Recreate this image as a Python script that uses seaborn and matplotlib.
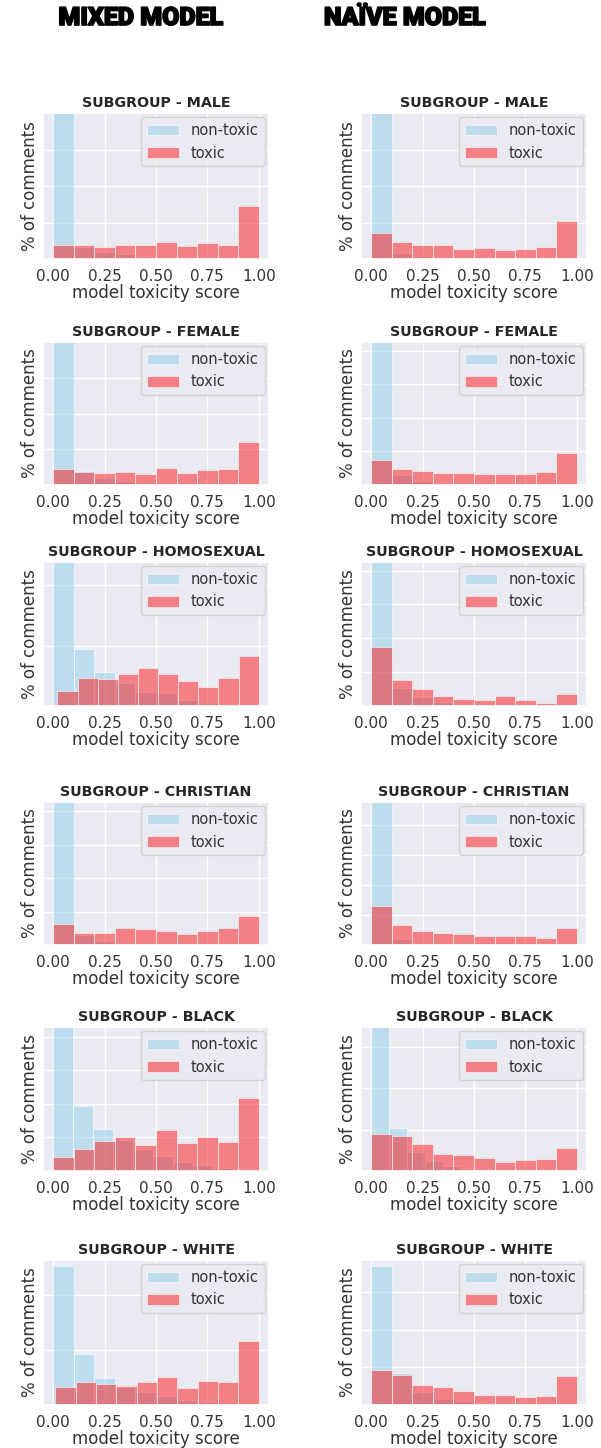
import numpy as np
import pandas as pd
import matplotlib.pyplot as plt
import matplotlib.patheffects as pe
import seaborn as sns

# bar heights (axis top = 100), 10 bins per series
groups = ["MALE", "FEMALE", "HOMOSEXUAL", "CHRISTIAN", "BLACK", "WHITE"]

mixed_nontoxic = [
    [100, 8, 4.6, 3.2, 1.5, 1, 0.7, 0.5, 0.3, 0.2],
    [100, 9.8, 5, 3, 1, 0.5, 0.4, 0.3, 0.2, 0.1],
    [100, 39.3, 23.3, 15.7, 9.7, 8.8, 3.9, 2.3, 1.2, 0.5],
    [100, 7, 3, 1.5, 0.5, 0.4, 0.3, 0.2, 0.1, 0.1],
    [100, 45, 29.2, 21.7, 15.5, 10.3, 6.2, 4.1, 2.3, 1.1],
    [95.6, 34.9, 18.9, 12.2, 8.9, 6, 3.3, 1.8, 1, 0.5],
]
mixed_toxic = [
    [9.8, 9.4, 8.0, 9.4, 9.8, 11.4, 8.7, 10.7, 9.4, 36],
    [10.9, 9.3, 8.1, 9.1, 7.9, 12.1, 8.1, 10.2, 10.9, 30.2],
    [10.6, 19.6, 18.7, 22.2, 26.6, 21.9, 17.6, 13.4, 19.6, 34.6],
    [14.7, 8.2, 8.4, 12.1, 11, 9.6, 7.7, 9.6, 11.7, 20.6],
    [9.8, 15.5, 21, 23.5, 18.3, 28.5, 19.4, 23.3, 20.1, 50.7],
    [12.4, 16.2, 14.4, 13.3, 16.2, 19.3, 12, 16.7, 16.2, 44],
]
naive_nontoxic = [
    [100, 4, 2, 1, 0.5, 0.3, 0.2, 0.1, 0.1, 0.1],
    [100, 7, 3, 1.5, 0.5, 0.3, 0.2, 0.1, 0.1, 0.1],
    [100, 12.6, 6.3, 2.8, 1.5, 1, 0.5, 0.5, 0.3, 0.2],
    [100, 4, 1.5, 0.8, 0.4, 0.3, 0.2, 0.1, 0.1, 0.1],
    [100, 30.1, 13, 6.8, 3.4, 1.6, 0.5, 0.5, 0.3, 0.2],
    [95.6, 22, 8.9, 4.4, 2.7, 1.5, 0.5, 0.5, 0.3, 0.2],
]
naive_toxic = [
    [17.8, 11.4, 9.8, 9.8, 7, 7.8, 6, 6.8, 8.4, 25.8],
    [17.4, 11.4, 9.8, 8.6, 8.6, 7.4, 7.7, 7.9, 9.1, 22.1],
    [41.2, 17.9, 12.1, 7, 5.1, 4.4, 6.7, 4, 2.1, 8.6],
    [27.6, 13.8, 9.8, 8.4, 7.7, 6.3, 6.3, 6.3, 4.7, 12.1],
    [25.8, 24.4, 18.7, 12.1, 11.2, 8.7, 6.4, 7.3, 8.4, 16],
    [24, 20.7, 14, 12.2, 10, 6.7, 7.1, 5.6, 6.4, 20],
]

# score range covered by each series (min, max)
mixed_nontoxic_range = [(0, 1), (0, 1), (0, 1), (0, 1), (0, 0.97), (0, 1)]
mixed_toxic_range = [(0, 1), (0, 1), (0.02, 1), (0, 1), (0, 1), (0.01, 1)]
naive_nontoxic_range = [(0, 1), (0, 1), (0, 1), (0, 1), (0, 0.87), (0, 1)]
naive_toxic_range = [(0, 1)] * 6

# spacing of the (unlabelled) y grid
mixed_grid = [25, 25, 42, 23.4, 23.3, 38]
naive_grid = [25, 23.5, 23.5, 21, 28.7, 26]

W, H = 601, 1448
row_px = [(113, 259), (342, 485), (562, 706), (802, 945), (1027, 1171), (1260, 1405)]
col_px = [(43, 269), (361, 587)]

sns.set_theme(style="darkgrid")
plt.rcParams["font.family"] = ["DejaVu Sans"]

fig = plt.figure(figsize=(W / 100, H / 100), dpi=100)


def hist(ax, heights, rng, color, label):
    edges = np.linspace(rng[0], rng[1], len(heights) + 1)
    df = pd.DataFrame({"score": (edges[:-1] + edges[1:]) / 2, "pct": heights})
    sns.histplot(data=df, x="score", weights="pct", bins=list(edges),
                 color=color, alpha=0.45, edgecolor="white", linewidth=0.4,
                 label=label, ax=ax)


def draw(ax, title, nt, nt_rng, tx, tx_rng, step):
    hist(ax, nt, nt_rng, "skyblue", "non-toxic")
    hist(ax, tx, tx_rng, "red", "toxic")
    ax.set_xlim(-0.05, 1.05)
    ax.set_ylim(0, 100)
    ax.set_yticks(np.arange(0, 100, step))
    ax.set_xticks([0, 0.25, 0.5, 0.75, 1.0])
    ax.tick_params(labelleft=False, labelsize=11, pad=1)
    ax.tick_params(axis="x", colors="#333333")
    ax.set_ylabel("% of comments", fontsize=12, labelpad=3, color="#333333")
    ax.set_xlabel("model toxicity score", fontsize=12, labelpad=0, color="#333333")
    ax.set_title("SUBGROUP - " + title, fontsize=10.3, fontweight="bold", pad=4,
                 color="#262626")
    ax.legend(loc="upper right", fontsize=10.5, handlelength=2.2, borderaxespad=0.3,
              labelcolor="#333333")


for i, g in enumerate(groups):
    top, bot = row_px[i]
    for j in range(2):
        left, right = col_px[j]
        ax = fig.add_axes([left / W, 1 - bot / H, (right - left) / W, (bot - top) / H])
        if j == 0:
            draw(ax, g, mixed_nontoxic[i], mixed_nontoxic_range[i],
                 mixed_toxic[i], mixed_toxic_range[i], mixed_grid[i])
        else:
            draw(ax, g, naive_nontoxic[i], naive_nontoxic_range[i],
                 naive_toxic[i], naive_toxic_range[i], naive_grid[i])

# heavy column headers (stroke thickens the bold face)
heavy = [pe.withStroke(linewidth=1.2, foreground="black")]
fig.text(141 / W, 1 - 18 / H, "MIXED MODEL", ha="center", va="center",
         fontsize=18, fontweight="black", family=["Roboto", "DejaVu Sans"],
         color="black", path_effects=heavy)
fig.text(405 / W, 1 - 18 / H, "NAÏVE MODEL", ha="center", va="center",
         fontsize=18, fontweight="black", family=["Roboto", "DejaVu Sans"],
         color="black", path_effects=heavy)

fig.savefig("out.png", dpi=100)
